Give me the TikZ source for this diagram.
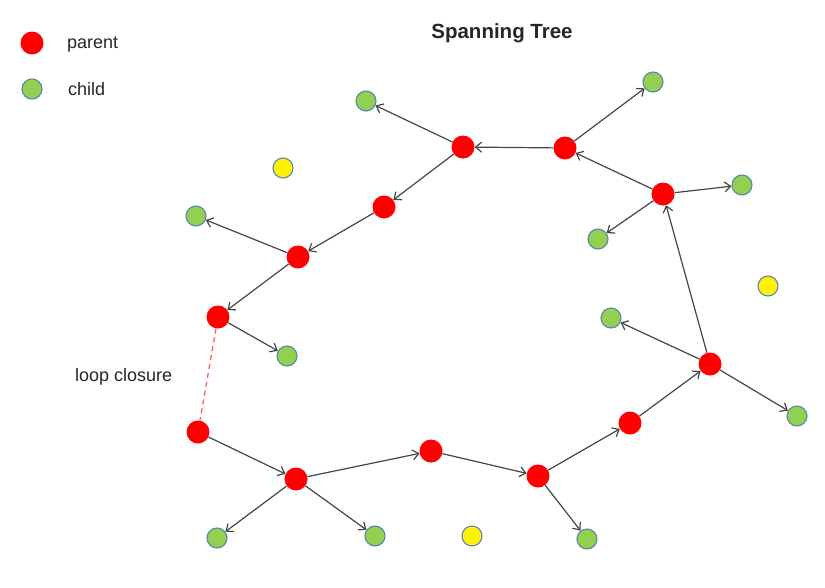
\documentclass[tikz,border=0pt]{standalone}
\usepackage{fontspec}
\setmainfont{Liberation Sans}
\usetikzlibrary{arrows.meta,positioning}
\definecolor{edgegray}{HTML}{454545}
\definecolor{childgreen}{HTML}{92D050}
\definecolor{rimblue}{HTML}{5B86B0}
\definecolor{loopred}{HTML}{FF5F5F}
\tikzset{
    -{Straight Barb[length=6pt,width=10pt]},
    parent/.style ={circle, fill=red, minimum size=23pt, inner sep=0pt},
    child/.style ={circle, draw=rimblue, fill=childgreen, minimum size=20pt, inner sep=0pt, line width=1.1pt},
    free/.style ={circle, draw=rimblue, fill=yellow, minimum size=20pt, inner sep=0pt, line width=1.1pt},
    tree/.style={draw=edgegray, line width=1.2pt},
    closure/.style={-,dash pattern=on 5pt off 4pt,draw=loopred,line width=1.3pt},
    lbl/.style = {inner sep=0pt, font=\fontsize{18}{20}\selectfont, text=black!85}
}
\begin{document}
\begin{tikzpicture}[x=1pt,y=-1pt]
    \useasboundingbox (0,0) rectangle (825,587);

    % title and legend
    \node[lbl, font=\bfseries\fontsize{20.5}{22}\selectfont] (title) at (502,33) {Spanning Tree};
    \node[parent] (lp) at (32,43) {};
    \node[child] (lc) at (32,89) {};
    \node[lbl, anchor=west] (lpt) at (67,45) {parent};
    \node[lbl, anchor=west] (lct) at (68,89) {child};

    % parent nodes
    \node[parent] (p1) at (463,147) {};
    \node[parent] (p2) at (565,148) {};
    \node[parent] (p3) at (663,194) {};
    \node[parent] (p4) at (384,207) {};
    \node[parent] (p5) at (298,257) {};
    \node[parent] (p6) at (218,317) {};
    \node[parent] (p7) at (198,432) {};
    \node[parent] (p8) at (296,479) {};
    \node[parent] (p9) at (431,451) {};
    \node[parent] (p10) at (538,476) {};
    \node[parent] (p11) at (630,423) {};
    \node[parent] (p12) at (710,364) {};

    % child nodes
    \node[child] (c1) at (366,101) {};
    \node[child] (c2) at (653,82) {};
    \node[child] (c3) at (742,185) {};
    \node[child] (c4) at (598,239) {};
    \node[child] (c5) at (196,216) {};
    \node[child] (c6) at (287,356) {};
    \node[child] (c7) at (611,318) {};
    \node[child] (c8) at (797,416) {};
    \node[child] (c9) at (217,538) {};
    \node[child] (c10) at (375,536) {};
    \node[child] (c11) at (587,539) {};

    % unvisited nodes
    \node[free] (y1) at (283,168) {};
    \node[free] (y2) at (768,286) {};
    \node[free] (y3) at (472,536) {};

    % tree edges
    \path[tree] (p7) edge (p8);
    \path[tree] (p8) edge (c9);
    \path[tree] (p8) edge (c10);
    \path[tree] (p8) edge (p9);
    \path[tree] (p9) edge (p10);
    \path[tree] (p10) edge (c11);
    \path[tree] (p10) edge (p11);
    \path[tree] (p11) edge (p12);
    \path[tree] (p12) edge (c7);
    \path[tree] (p12) edge (c8);
    \path[tree] (p12) edge (p3);
    \path[tree] (p3) edge (c3);
    \path[tree] (p3) edge (c4);
    \path[tree] (p3) edge (p2);
    \path[tree] (p2) edge (c2);
    \path[tree] (p2) edge (p1);
    \path[tree] (p1) edge (c1);
    \path[tree] (p1) edge (p4);
    \path[tree] (p4) edge (p5);
    \path[tree] (p5) edge (c5);
    \path[tree] (p5) edge (p6);
    \path[tree] (p6) edge (c6);

    % loop closure
    \path[closure] (p6) edge (p7);
    \node[lbl, anchor=west] (loop) at (75,377) {loop closure};
\end{tikzpicture}
\end{document}
